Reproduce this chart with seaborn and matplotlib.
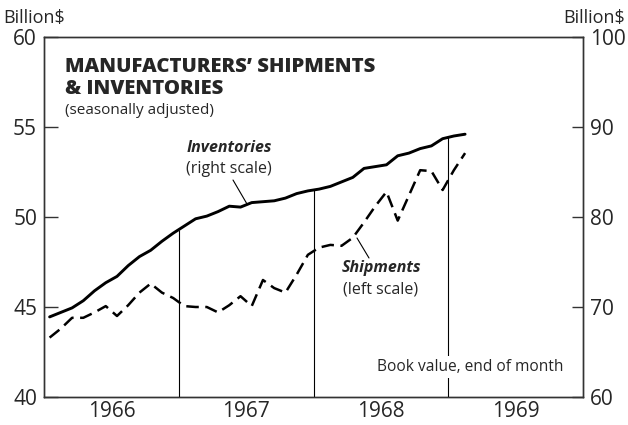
import numpy as np
import pandas as pd
import matplotlib.pyplot as plt
import seaborn as sns

# Valores mensais (jan 1966 - fev 1969)
months = pd.period_range('1966-01', '1969-02', freq='M')
shipments = [43.3, 43.8, 44.4, 44.4, 44.7, 45.05, 44.5, 45.1, 45.8, 46.3, 45.8, 45.5,
             45.05, 45.0, 45.0, 44.7, 45.1, 45.6, 45.05, 46.5, 46.05, 45.8, 46.8, 47.9,
             48.3, 48.45, 48.4, 48.85, 49.7, 50.6, 51.4, 49.8, 51.2, 52.6, 52.55, 51.5,
             52.6, 53.55]
inventories = [68.9, 69.4, 69.9, 70.7, 71.8, 72.7, 73.4, 74.6, 75.6, 76.3, 77.3, 78.2,
               79.0, 79.8, 80.1, 80.6, 81.2, 81.1, 81.6, 81.7, 81.8, 82.1, 82.6, 82.9,
               83.1, 83.4, 83.9, 84.4, 85.4, 85.6, 85.8, 86.8, 87.1, 87.6, 87.9, 88.7,
               89.0, 89.2]
year_labels = ['1966', '1967', '1968', '1969']
left_ticks = [40, 45, 50, 55, 60]
right_ticks = [60, 70, 80, 90, 100]

# posicao no eixo x: meses desde jan 1966, no meio do mes
pos = [(m.year - 1966) * 12 + m.month - 0.5 for m in months]
df = pd.DataFrame({'pos': pos, 'shipments': shipments, 'inventories': inventories})

sns.set_style("white")
plt.rcParams['font.family'] = ['Open Sans', 'DejaVu Sans']

fig = plt.figure(figsize=(6.28, 4.25), dpi=100)
ax = fig.add_axes([44/628, 1 - 397/425, 539/628, 360/425])

# Shipments (escala da esquerda) - tracejado
sns.lineplot(data=df, x='pos', y='shipments', ax=ax, color='black', linewidth=1.8)
ax.lines[0].set_dashes([5, 2.6])

ax2 = ax.twinx()
# Inventories (escala da direita) - linha cheia
sns.lineplot(data=df, x='pos', y='inventories', ax=ax2, color='black', linewidth=2.1)

ax.set_xlim(0, 48)
ax.set_ylim(40, 60)
ax2.set_ylim(60, 100)
ax.set_xlabel('')
ax.set_ylabel('')
ax2.set_ylabel('')

# linhas verticais nas viradas de ano, ate a curva de estoques
bounds = [12, 24, 36]
tops = np.interp(bounds, df['pos'], df['inventories'])
ax2.vlines(bounds, 60, tops, color='black', linewidth=0.8)

ax.set_yticks(left_ticks)
ax.set_yticklabels([str(t) for t in left_ticks])
ax2.set_yticks(right_ticks)
ax2.set_yticklabels([str(t) for t in right_ticks])
ax.tick_params(axis='y', direction='in', length=10, width=1, labelsize=15, pad=5, color='#333333')
ax2.tick_params(axis='y', direction='in', length=8, width=1, labelsize=15, pad=5, color='#333333')

ax.set_xticks([6, 12, 18, 24, 30, 36, 42])
ax.set_xticklabels([year_labels[0], '', year_labels[1], '', year_labels[2], '', year_labels[3]])
ax.set_xticks(range(1, 48), minor=True)
ax.tick_params(axis='x', which='major', direction='in', length=7, width=1, labelsize=15, pad=3, color='#333333')
ax.tick_params(axis='x', which='minor', direction='in', length=3.5, width=0.8, color='#333333')

for a in (ax, ax2):
    for s in a.spines.values():
        s.set_color('#333333')
        s.set_linewidth(1)

fig.text(3/628, 1 - 18/425, 'Billion$', fontsize=13, va='center', ha='left')
fig.text(625/628, 1 - 18/425, 'Billion$', fontsize=13, va='center', ha='right')

fig.text(65/628, 1 - 67/425, 'MANUFACTURERS’ SHIPMENTS', fontsize=14.6, fontweight='heavy', va='center')
fig.text(65/628, 1 - 89/425, '& INVENTORIES', fontsize=14.6, fontweight='heavy', va='center')
fig.text(65/628, 1 - 110/425, '(seasonally adjusted)', fontsize=11, va='center')

fig.text(229/628, 1 - 148/425, 'Inventories', fontsize=11.5, fontweight='bold', style='italic', ha='center', va='center')
fig.text(229/628, 1 - 169/425, '(right scale)', fontsize=11.5, ha='center', va='center')
fig.add_artist(plt.Line2D([233/628, 247/628], [1 - 180/425, 1 - 204/425], color='black', linewidth=0.8))

fig.text(381/628, 1 - 268/425, 'Shipments', fontsize=11.5, fontweight='bold', style='italic', ha='center', va='center')
fig.text(381/628, 1 - 290/425, '(left scale)', fontsize=11.5, ha='center', va='center')
fig.add_artist(plt.Line2D([357/628, 369/628], [1 - 238/425, 1 - 258/425], color='black', linewidth=0.8))

ax2.text(0.963, 0.083, 'Book value, end of month', transform=ax2.transAxes, fontsize=11.2,
         ha='right', va='center', zorder=10,
         bbox=dict(facecolor='white', edgecolor='none', pad=2))

fig.savefig('out.png', dpi=100)
